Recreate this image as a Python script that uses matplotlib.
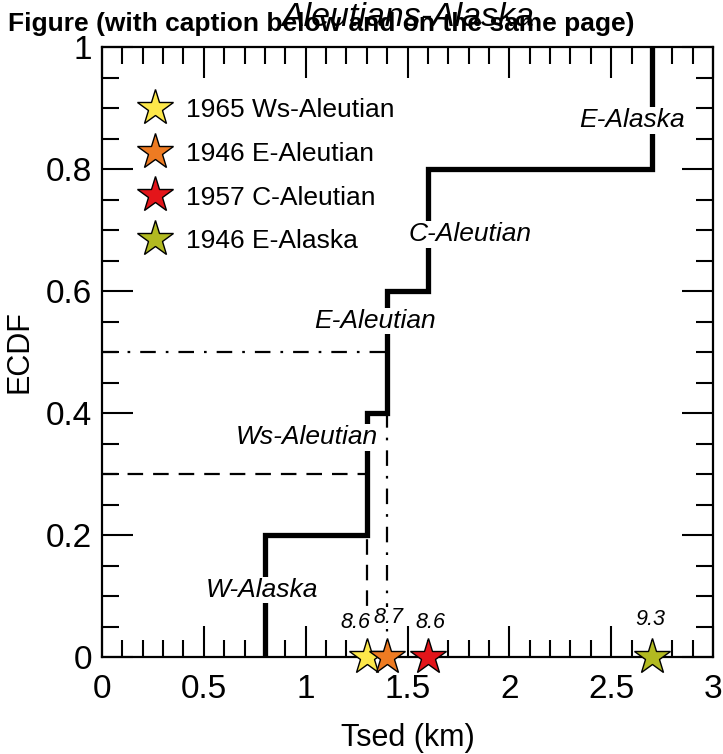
import matplotlib
matplotlib.use("Agg")
import matplotlib.pyplot as plt
from matplotlib.ticker import MultipleLocator

plt.rcParams['font.family'] = ['Liberation Sans', 'DejaVu Sans']

# ECDF data
tsed_sorted = [0.8, 1.3, 1.4, 1.6, 2.7]
ecdf_vals = [0.2, 0.4, 0.6, 0.8, 1.0]
region_names = ["W-Alaska", "Ws-Aleutian", "E-Aleutian", "C-Aleutian", "E-Alaska"]
name_x = [0.786, 1.004, 1.338, 1.809, 2.604]
name_y = [0.11, 0.36, 0.551, 0.693, 0.88]

# events (stars)
event_labels = ["1965 Ws-Aleutian", "1946 E-Aleutian", "1957 C-Aleutian", "1946 E-Alaska"]
event_tsed = [1.3, 1.4, 1.6, 2.7]
event_mag = ["8.6", "8.7", "8.6", "9.3"]
event_colors = ["#FDE84A", "#EE7B22", "#E3151A", "#B2BA21"]
mag_x = [1.242, 1.404, 1.615, 2.69]
mag_y = [0.056, 0.064, 0.056, 0.061]

# reference lines
dash_level = 0.3
dash_x = 1.3
dashdot_level = 0.5
dashdot_x = 1.4

fig = plt.figure(figsize=(7.23, 7.54), dpi=100)
ax = fig.add_axes([102/723, 1-657/754, 611/723, 610/754])

# step ECDF
xs = [tsed_sorted[0]]
ys = [0.0]
for i, (x, y) in enumerate(zip(tsed_sorted, ecdf_vals)):
    xs += [x, x]
    ys += [ys[-1], y]
    if i + 1 < len(tsed_sorted):
        xs.append(tsed_sorted[i+1])
        ys.append(y)
ax.plot(xs[1:], ys[1:], color='black', lw=3.8, solid_joinstyle='miter',
        solid_capstyle='butt', zorder=3)

# dashed reference
ax.plot([0, dash_x], [dash_level, dash_level], color='black', lw=1.6, dashes=(7, 4.5))
ax.plot([dash_x, dash_x], [0, 0.2], color='black', lw=1.6, dashes=(7, 4.5))
# dash-dot reference
ax.plot([0, dashdot_x], [dashdot_level, dashdot_level], color='black', lw=1.6, dashes=(7, 4.5, 1.2, 4.5))
ax.plot([dashdot_x, dashdot_x], [0, 0.4], color='black', lw=1.6, dashes=(7, 4.5, 1.2, 4.5))

for n, x, y in zip(region_names, name_x, name_y):
    ax.text(x, y, n, fontsize=19, style='italic', ha='center', va='center', zorder=4,
            bbox=dict(facecolor='white', edgecolor='none', pad=1.0))

for lab, x, c, m, mx, my in zip(event_labels, event_tsed, event_colors, event_mag, mag_x, mag_y):
    ax.plot([x], [0], marker='*', markersize=27, markerfacecolor=c, markeredgecolor='black',
            markeredgewidth=1.0, linestyle='none', clip_on=False, zorder=5, label=lab)
    ax.text(mx, my, m, fontsize=15.5, style='italic', ha='center', va='center', zorder=4,
            bbox=dict(facecolor='white', edgecolor='none', pad=0.5))

leg = ax.legend(loc='upper left', bbox_to_anchor=(0.052, 0.925), frameon=False, fontsize=19,
                handlelength=1.2, handletextpad=0.58, labelspacing=0.75, borderpad=0.2,
                borderaxespad=0)

ax.set_xlim(0, 3)
ax.set_ylim(0, 1)
ax.xaxis.set_minor_locator(MultipleLocator(0.1))
ax.yaxis.set_minor_locator(MultipleLocator(0.05))
ax.set_xticks([0, 0.5, 1, 1.5, 2, 2.5, 3])
ax.set_xticklabels(["0", "0.5", "1", "1.5", "2", "2.5", "3"])
ax.set_yticks([0, 0.2, 0.4, 0.6, 0.8, 1])
ax.set_yticklabels(["0", "0.2", "0.4", "0.6", "0.8", "1"])
ax.tick_params(which='both', direction='in', top=True, right=True, width=1.5, labelsize=24)
ax.tick_params(which='major', length=22, pad=7)
ax.tick_params(which='minor', length=12)
ax.tick_params(axis='x', which='major', pad=12)
for s in ax.spines.values():
    s.set_linewidth(1.6)

ax.set_xlabel("Tsed (km)", fontsize=22, labelpad=13)
ax.set_ylabel("ECDF", fontsize=22, labelpad=8)

fig.text(408/723, 1-17/754, "Aleutians-Alaska", fontsize=24.5, style='italic', ha='center', va='center')
fig.text(8/723, 1-24/754, "Figure (with caption below and on the same page)", fontsize=19,
         fontweight='bold', ha='left', va='center')

fig.savefig("out.png", dpi=100)
